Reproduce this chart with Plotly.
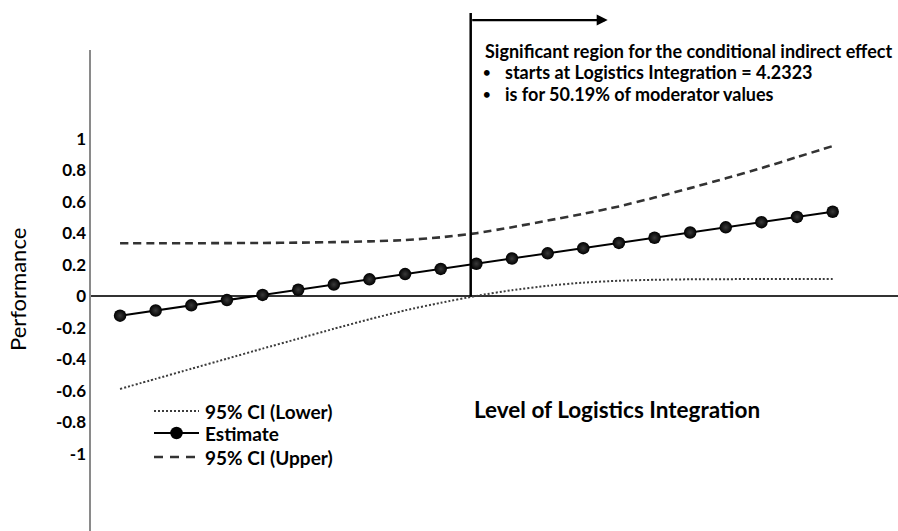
import plotly.graph_objects as go

# Moderator grid (Logistics Integration) and conditional indirect effect on Performance
moderator = [1.28, 1.58, 1.88, 2.18, 2.48, 2.78, 3.08, 3.38, 3.68, 3.98, 4.28,
             4.58, 4.88, 5.18, 5.48, 5.78, 6.08, 6.38, 6.68, 6.98, 7.28]
estimate = [-0.122, -0.089, -0.056, -0.023, 0.010, 0.043, 0.076, 0.109, 0.142, 0.175, 0.208,
            0.241, 0.274, 0.307, 0.340, 0.373, 0.406, 0.439, 0.472, 0.505, 0.538]
ci_lower = [-0.587, -0.523, -0.459, -0.395, -0.331, -0.268, -0.205, -0.145, -0.088, -0.040, 0.004,
            0.040, 0.068, 0.088, 0.100, 0.106, 0.109, 0.110, 0.111, 0.111, 0.111]
ci_upper = [0.338, 0.338, 0.338, 0.339, 0.340, 0.342, 0.345, 0.350, 0.358, 0.376, 0.402,
            0.440, 0.482, 0.525, 0.572, 0.628, 0.688, 0.750, 0.815, 0.885, 0.955]

# Johnson-Neyman point and share of moderator values in the significant region
jn_point = 4.2323
pct_significant = 50.19

y_tick_vals = [1, 0.8, 0.6, 0.4, 0.2, 0, -0.2, -0.4, -0.6, -0.8, -1]
y_tick_text = ["1", "0.8", "0.6", "0.4", "0.2", "0", "-0.2", "-0.4", "-0.6", "-0.8", "-1"]

legend_names = ["95% CI (Lower)", "Estimate", "95% CI (Upper)"]

FONT = "Lato"
W, H = 898, 531
ML = 90
X_RANGE = [1.027, 7.83]
Y_RANGE = [-1.489, 1.8825]

LOWER_STYLE = dict(color="#3c3c3c", width=2, dash="2px,2px")
EST_STYLE = dict(color="#000000", width=2)
UPPER_STYLE = dict(color="#333333", width=2.6, dash="8px,5px")
MARKER_SIZE = 12.5


def px_x(p):
    return (p - ML) / (W - ML)


def px_y(p):
    return (H - p) / H


fig = go.Figure()

fig.add_trace(go.Scatter(
    x=moderator, y=ci_lower, mode="lines", name=legend_names[0],
    line=dict(**LOWER_STYLE, shape="spline", smoothing=0.6), showlegend=False,
))
fig.add_trace(go.Scatter(
    x=moderator, y=estimate, mode="lines+markers", name=legend_names[1],
    line=EST_STYLE,
    marker=dict(size=MARKER_SIZE, color="#000000",
                gradient=dict(type="radial", color="#3a3a3a"),
                line=dict(width=0)),
    showlegend=False,
))
fig.add_trace(go.Scatter(
    x=moderator, y=ci_upper, mode="lines", name=legend_names[2],
    line=dict(**UPPER_STYLE, shape="spline", smoothing=0.6), showlegend=False,
))

# Vertical axis line (stops short of the top edge)
fig.add_shape(type="line", xref="paper", yref="y", x0=0, x1=0,
              y0=Y_RANGE[0], y1=1.565, line=dict(color="#8a8a8a", width=2))

# Boundary of the significant region
fig.add_shape(type="line", xref="x", yref="y", x0=jn_point, x1=jn_point,
              y0=0, y1=1.80, line=dict(color="#000000", width=2.5))

# Arrow pointing into the significant region
fig.add_annotation(x=jn_point, y=1.755, xref="x", yref="y", text="",
                   showarrow=True, arrowhead=2, arrowsize=1.0, arrowwidth=2.2,
                   arrowcolor="#000000", ax=-137, ay=0, xshift=137)

note_font = dict(family=FONT, size=18, color="#000000", weight="bold")
fig.add_annotation(x=px_x(483), y=px_y(51), xref="paper", yref="paper",
                   text="Significant region for the conditional indirect effect",
                   showarrow=False, xanchor="left", yanchor="middle", font=note_font)
bullet_lines = [
    f"starts at Logistics Integration = {jn_point}",
    f"is for {pct_significant}% of moderator values",
]
for i, line in enumerate(bullet_lines):
    yy = px_y(72 + 22 * i)
    fig.add_annotation(x=px_x(481), y=yy, xref="paper", yref="paper", text="•",
                       showarrow=False, xanchor="left", yanchor="middle",
                       font=dict(family=FONT, size=13, color="#000000", weight="bold"))
    fig.add_annotation(x=px_x(503), y=yy, xref="paper", yref="paper", text=line,
                       showarrow=False, xanchor="left", yanchor="middle", font=note_font)

# Axis titles
fig.add_annotation(x=px_x(472), y=px_y(409), xref="paper", yref="paper",
                   text="Level of Logistics Integration", showarrow=False,
                   xanchor="left", yanchor="middle",
                   font=dict(family=FONT, size=22.5, color="#000000", weight="bold"))
fig.add_annotation(x=px_x(18), y=px_y(290), xref="paper", yref="paper",
                   text="Performance", showarrow=False, textangle=-90,
                   xanchor="center", yanchor="middle",
                   font=dict(family=FONT, size=22, color="#000000"))

# Legend key: line samples, marker and labels
legend_rows = [411, 433, 457]
legend_styles = [LOWER_STYLE, EST_STYLE, dict(UPPER_STYLE, dash="9px,7px")]
legend_font = dict(family=FONT, size=19, color="#000000", weight="bold")
for name, row, style in zip(legend_names, legend_rows, legend_styles):
    fig.add_shape(type="line", xref="paper", yref="paper",
                  x0=px_x(154), x1=px_x(199), y0=px_y(row), y1=px_y(row),
                  line=style)
    fig.add_annotation(x=px_x(203), y=px_y(row), xref="paper", yref="paper",
                       text=name, showarrow=False, xanchor="left", yanchor="middle",
                       font=legend_font)
r = MARKER_SIZE / 2
fig.add_shape(type="circle", xref="paper", yref="paper",
              x0=px_x(176.5 - r), x1=px_x(176.5 + r),
              y0=px_y(legend_rows[1] - r), y1=px_y(legend_rows[1] + r),
              fillcolor="#000000", line=dict(width=0))

fig.update_layout(
    width=W, height=H,
    margin=dict(l=ML, r=0, t=0, b=0, pad=0),
    paper_bgcolor="white", plot_bgcolor="white",
    font=dict(family=FONT, color="#000000"),
    showlegend=False,
    xaxis=dict(range=X_RANGE, showgrid=False, zeroline=False, showline=False,
               showticklabels=False, ticks=""),
    yaxis=dict(range=Y_RANGE, showgrid=False, zeroline=True,
               zerolinecolor="#333333", zerolinewidth=2, showline=False,
               tickmode="array", tickvals=y_tick_vals, ticktext=y_tick_text,
               ticks="", ticklabelstandoff=3,
               tickfont=dict(family=FONT, size=17, color="#000000", weight="bold"),
               automargin=False),
)

fig.write_html("out.html")
